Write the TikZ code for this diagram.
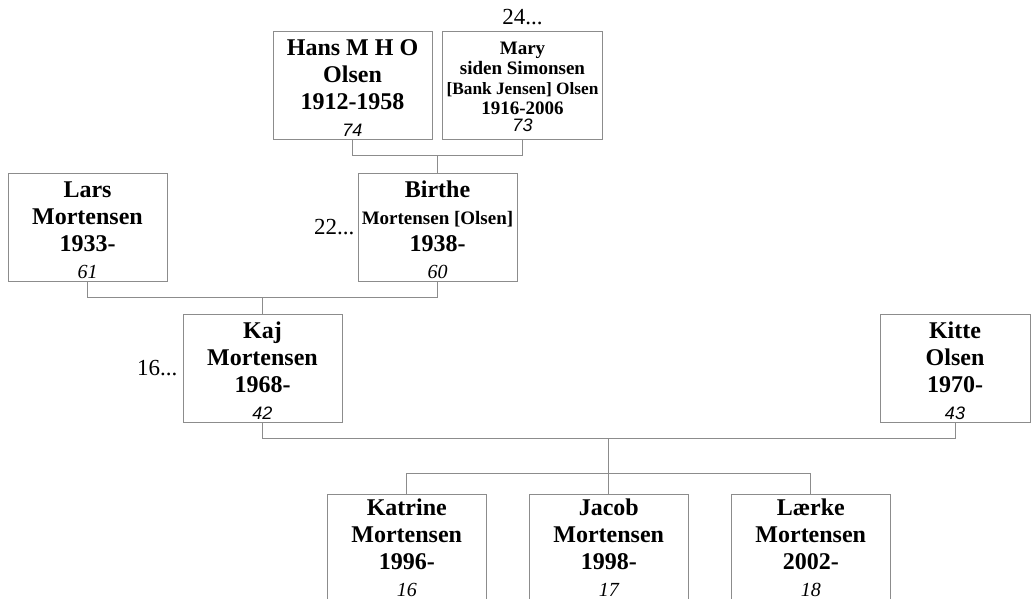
\documentclass[tikz,border=0pt]{standalone}
\usepackage{fontspec}
\setmainfont{Liberation Serif}
\newfontfamily\numsans{Liberation Sans}
\usetikzlibrary{positioning,calc}
\definecolor{linegray}{HTML}{8C8C8C}
\tikzset{
person/.style={draw=linegray, line width=1pt, minimum width=159pt, minimum height=108pt,
  inner sep=0pt, align=center, font=\fontsize{24}{27}\selectfont\bfseries,
  text height=102pt, text depth=0pt},
child/.style={person, text height=97pt},
link/.style={draw=linegray, line width=1pt},
more/.style={inner sep=0pt, font=\fontsize{23}{26}\selectfont}
}
\newcommand{\age}[1]{\\{\fontsize{20}{22}\selectfont\mdseries\itshape #1}}
\newcommand{\agesans}[1]{\\{\fontsize{18}{20}\numsans\mdseries\itshape #1}}

\begin{document}
\begin{tikzpicture}[x=1pt,y=-1pt]
\useasboundingbox (0,0) rectangle (1031,598);
%Grandparents
\node[person] (hans) at (352.5,85) {Hans M H O\\Olsen\\1912-1958\agesans{74}};
\node[person, minimum width=160pt, font=\fontsize{19}{19.8}\selectfont\bfseries,
  text height=92pt] (mary) at (522.5,85)
{Mary\\siden Simonsen\\{\fontsize{17.3}{18}\selectfont[Bank Jensen] Olsen}\\1916-2006\\[-2.8pt]%
{\fontsize{18}{20}\numsans\mdseries\itshape 73}};
\node[more, above=5pt of mary] (marymore) {24...};
\draw[link] (hans.south) -- ++(0,16) -| (mary.south);
\coordinate (hm) at ($(hans.south)!.5!(mary.south)+(0,16)$);
%Parents
\node[person] (lars) at (87.5,227) {Lars\\Mortensen\\1933-\age{61}};
\node[person] (birthe) at (437.5,227.5)
{Birthe\\{\fontsize{19}{21}\selectfont Mortensen [Olsen]}\\1938-\age{60}};
\node[more, left=3pt of birthe] (birthemore) {22...};
\draw[link] (hm) -- (birthe.north);
\draw[link] (lars.south) -- ++(0,16) -| (birthe.south);
\coordinate (lb) at ($(lars.south)!.5!(birthe.south)+(0,16)$);
%Couple
\node[person] (kaj) at (262.5,368) {Kaj\\Mortensen\\1968-\agesans{42}};
\node[more, left=5pt of kaj] (kajmore) {16...};
\node[person, minimum width=150pt] (kitte) at (955,368) {Kitte\\Olsen\\1970-\agesans{43}};
\draw[link] (lb) -- (kaj.north);
\draw[link] (kaj.south) -- ++(0,16) -| (kitte.south);
\coordinate (kk) at ($(kaj.south)!.5!(kitte.south)+(0,16)$);
%Children
\node[child] (katrine) at (406.75,548) {Katrine\\Mortensen\\1996-\age{16}};
\node[child] (jacob) at (608.75,548) {Jacob\\Mortensen\\1998-\age{17}};
\node[child] (laerke) at (810.75,548) {Lærke\\Mortensen\\2002-\age{18}};
\draw[link] (kk) -- ++(0,35) coordinate (sib) -- (jacob.north);
\draw[link] (katrine.north) -- (katrine.north |- sib) -- (laerke.north |- sib) -- (laerke.north);
\end{tikzpicture}
\end{document}
